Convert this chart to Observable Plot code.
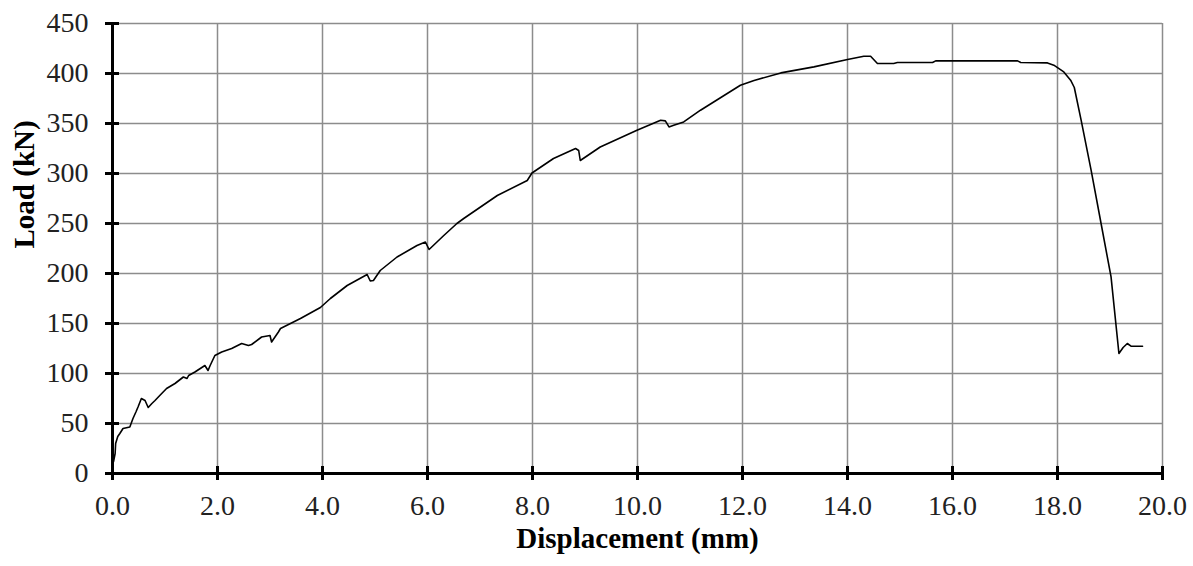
<!DOCTYPE html>
<html>
<head>
<meta charset="utf-8">
<script src="https://cdn.jsdelivr.net/npm/d3@7"></script>
<script src="https://cdn.jsdelivr.net/npm/@observablehq/plot@0.6"></script>
<style>
  html, body { margin: 0; padding: 0; background: #fff; }
  #chart svg { display: block; }
</style>
</head>
<body>
<div id="chart"></div>
<script>
// Displacement (mm) and Load (kN)
const displacement = [0.02,0.05,0.06,0.1,0.14,0.2,0.33,0.39,0.45,0.49,0.55,0.62,0.68,0.75,0.81,0.9,1.03,1.19,1.35,1.42,1.45,1.57,1.76,1.82,1.86,1.95,2.08,2.27,2.46,2.59,2.65,2.84,3.0,3.03,3.16,3.2,3.58,3.96,4.15,4.47,4.85,4.91,4.97,5.1,5.42,5.8,5.96,6.03,6.31,6.56,6.69,7.33,7.9,7.99,8.4,8.82,8.88,8.91,9.29,9.99,10.44,10.53,10.6,10.69,10.88,11.2,11.96,12.22,12.73,13.36,14.0,14.31,14.44,14.57,14.88,14.95,15.62,15.68,17.24,17.3,17.81,17.93,18.12,18.25,18.32,18.45,18.64,18.83,19.02,19.17,19.25,19.33,19.4,19.62];
const load = [12,20,30,37,40,45,46.5,55,62,67,75,73,66,70,73,78,85,90,96.5,95,98,101.5,108,103,108,118,121.5,125,130,128,129,136.5,138,131.5,141.5,145,155,166,175,188,199,192.5,193,203,216.5,228,231.5,224,238,250,255,278,293,300.5,315,325,323,313,326.5,343.3,353.3,352.6,346.6,348.3,351.6,363.3,388.3,393,400.6,406.6,414,417.3,417.3,410,410,411,411,412.6,412.6,411,410.6,408.3,401.6,393.3,386,353.3,303.3,250,196.6,120,126,130,127.3,127.3];
const xTicks = [0,2,4,6,8,10,12,14,16,18,20];
const yTicks = [0,50,100,150,200,250,300,350,400,450];
const xTitle = "Displacement (mm)";
const yTitle = "Load (kN)";

const data = displacement.map((d, i) => ({d, L: load[i]}));

const chart = Plot.plot({
  width: 1193,
  height: 566,
  marginLeft: 112,
  marginRight: 31,
  marginTop: 23,
  marginBottom: 93,
  style: {fontFamily: "'Liberation Serif', 'Times New Roman', serif", fontSize: "28px", color: "#111", background: "#fff"},
  x: {domain: [0, 20]},
  y: {domain: [0, 450]},
  marks: [
    Plot.gridX(xTicks.filter(t => t > 0), {stroke: "#8c8c8c", strokeOpacity: 1, strokeWidth: 1.5}),
    Plot.gridY(yTicks.filter(t => t > 0), {stroke: "#8c8c8c", strokeOpacity: 1, strokeWidth: 1.5}),
    Plot.ruleY([0], {stroke: "#000", strokeWidth: 3}),
    Plot.ruleX([0], {stroke: "#000", strokeWidth: 3}),
    Plot.axisX(xTicks, {tickSize: 14, dy: -7, tickFormat: () => "", stroke: "#000", strokeWidth: 3, label: null}),
    Plot.axisY(yTicks, {tickSize: 14, dx: 7, tickFormat: () => "", stroke: "#000", strokeWidth: 3, label: null}),
    Plot.axisX(xTicks, {tickSize: 0, tickPadding: 22, tickFormat: d3.format(".1f"), fill: "#222", label: null}),
    Plot.axisY(yTicks, {tickSize: 0, tickPadding: 24, tickFormat: d3.format("d"), fill: "#222", label: null}),
    Plot.line(data, {x: "d", y: "L", stroke: "#000", strokeWidth: 1.6, strokeLinejoin: "round"}),
    Plot.text([xTitle], {frameAnchor: "bottom", dy: 74, fontWeight: "bold", fontSize: 29, fill: "#000"}),
    Plot.text([yTitle], {frameAnchor: "left", dx: -88, rotate: -90, fontWeight: "bold", fontSize: 29, fill: "#000"})
  ]
});
document.getElementById("chart").appendChild(chart);
</script>
</body>
</html>
